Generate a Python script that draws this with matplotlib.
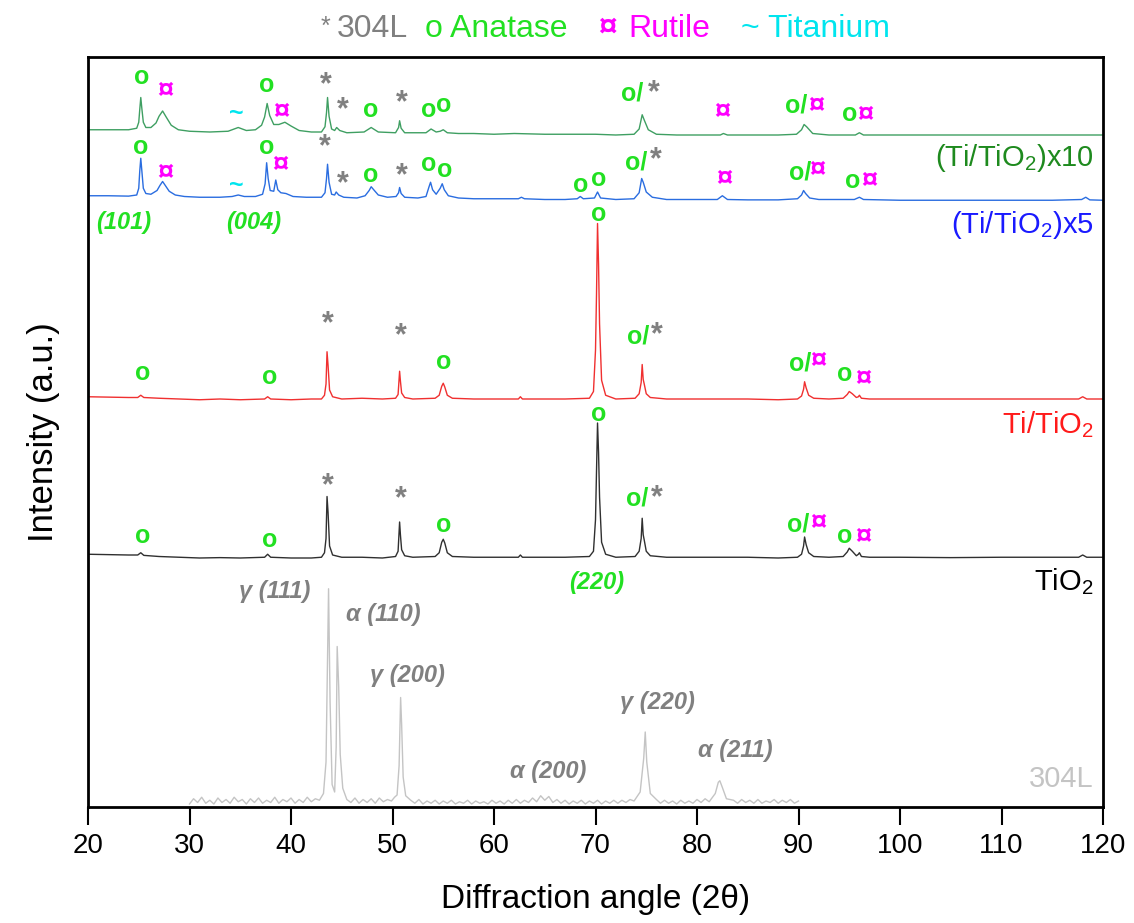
import numpy as np
import matplotlib
matplotlib.use("Agg")
import matplotlib.pyplot as plt

plt.rcParams['font.family'] = ['Liberation Sans', 'DejaVu Sans']
plt.rcParams['mathtext.fontset'] = 'custom'
plt.rcParams['mathtext.rm'] = 'Liberation Sans'
plt.rcParams['mathtext.it'] = 'Liberation Sans:italic'

# ---- data ----
# shared angle grid for the two TiO2 patterns
tio2_x = [20, 22, 24, 24.9, 25.2, 25.5, 27, 29, 31, 33, 35, 37.4, 37.7, 38.0, 40, 42, 43.0, 43.3,
          43.45, 43.55, 43.65, 43.8, 44.1, 45, 47, 49, 50.3, 50.55, 50.7, 50.78, 50.9, 51.2, 52,
          54.2, 54.6, 54.85, 55.0, 55.15, 55.4, 55.9, 58, 60, 62.4, 62.6, 62.8, 65, 67, 69.4, 69.8,
          70.0, 70.1, 70.2, 70.3, 70.4, 70.6, 71.0, 72, 73.9, 74.3, 74.5, 74.6, 74.7, 74.8, 75.0,
          75.4, 77, 80, 85, 88, 89.9, 90.3, 90.5, 90.6, 90.75, 91.0, 91.5, 93, 94.4, 94.8, 95.0,
          95.3, 95.7, 95.9, 96.0, 96.2, 97, 100, 105, 110, 115, 117.6, 118.0, 118.4, 120]
tio2_y = [0.4, 0.35, 0.3, 0.3, 0.6, 0.25, 0.1, 0.0, -0.1, -0.05, -0.1, 0.0, 0.4, 0.0, -0.1, -0.1,
          0.0, 0.6, 2.5, 8.1, 6.0, 1.5, 0.3, 0.0, 0.0, -0.1, 0.1, 0.8, 4.7, 3.0, 1.0, 0.2, 0.0,
          0.1, 0.6, 2.0, 2.4, 1.9, 0.6, 0.1, 0.0, 0.0, 0.0, 0.3, 0.0, 0.0, 0.0, 0.1, 0.8, 5.0,
          11.5, 17.9, 14.0, 8.0, 2.0, 0.4, 0.0, 0.1, 0.8, 2.5, 5.2, 3.0, 2.3, 0.8, 0.2, 0.0, 0.0,
          0.0, -0.1, 0.0, 0.4, 1.5, 2.7, 1.7, 0.6, 0.1, 0.0, 0.1, 0.7, 1.2, 0.8, 0.2, 0.4, 0.6,
          0.1, 0.0, 0.0, -0.05, 0.0, 0.0, 0.0, 0.3, 0.0, 0.0]
ti_tio2_y = [0.3, 0.25, 0.2, 0.2, 0.5, 0.2, 0.1, 0.0, -0.1, 0.0, -0.1, 0.0, 0.3, 0.0, -0.1, 0.0,
             0.0, 0.5, 2.0, 6.3, 4.5, 1.2, 0.3, 0.0, 0.1, 0.0, 0.1, 0.6, 3.7, 2.4, 0.8, 0.2, 0.0,
             0.1, 0.5, 1.7, 2.1, 1.6, 0.5, 0.1, 0.0, 0.0, 0.0, 0.3, 0.0, 0.0, 0.0, 0.1, 1.0, 6.5,
             14.0, 23.4, 18.0, 10.0, 2.5, 0.5, 0.0, 0.1, 0.7, 2.2, 4.6, 2.6, 2.0, 0.7, 0.2, 0.0,
             0.0, 0.0, -0.1, 0.0, 0.4, 1.3, 2.3, 1.5, 0.5, 0.1, 0.0, 0.1, 0.6, 1.0, 0.7, 0.2, 0.3,
             0.5, 0.1, 0.0, 0.0, 0.0, 0.0, 0.0, 0.0, 0.3, 0.0, 0.0]

x5_x = [20, 22, 24, 24.8, 25.0, 25.1, 25.2, 25.3, 25.45, 25.7, 26.2, 26.8, 27.1, 27.35, 27.6, 28.0,
        28.6, 29.5, 31, 33, 34.2, 34.8, 35.4, 36.5, 37.2, 37.45, 37.6, 37.75, 37.95, 38.3, 38.5,
        38.7, 39.0, 39.5, 40.2, 41.5, 43.0, 43.35, 43.5, 43.6, 43.75, 44.0, 44.3, 44.45, 44.7,
        45.2, 46.5, 47.3, 47.7, 47.9, 48.15, 48.6, 49.5, 50.35, 50.6, 50.7, 50.85, 51.2, 52.5,
        53.3, 53.6, 53.75, 53.95, 54.3, 54.7, 54.9, 55.1, 55.5, 56.5, 58, 60, 62.4, 62.7, 63, 65,
        67, 68.2, 68.5, 68.8, 69.9, 70.2, 70.5, 72, 73.8, 74.3, 74.55, 74.7, 75.0, 75.6, 77, 80,
        82.0, 82.5, 83.0, 85, 88, 89.9, 90.3, 90.5, 90.7, 91.1, 92, 95.5, 96.0, 96.4, 100, 105,
        110, 115, 117.9, 118.3, 118.7, 120]
x5_y = [0.2, 0.2, 0.15, 0.3, 1.2, 3.5, 5.2, 3.6, 1.2, 0.5, 0.4, 0.9, 1.6, 2.1, 1.6, 0.8, 0.3, 0.1,
        0.0, 0.0, 0.1, 0.3, 0.1, 0.1, 0.4, 1.8, 4.6, 2.5, 0.9, 0.8, 2.3, 1.0, 0.6, 0.5, 0.1, 0.0,
        0.0, 0.6, 2.5, 4.4, 2.0, 0.4, 0.3, 0.7, 0.3, 0.0, -0.1, 0.2, 0.9, 1.4, 1.0, 0.3, 0.0, 0.1,
        0.6, 1.3, 0.5, 0.0, -0.1, 0.1, 1.4, 2.0, 1.0, 0.4, 1.2, 1.8, 1.0, 0.2, -0.1, -0.2, -0.2,
        -0.2, 0.0, -0.2, -0.3, -0.3, -0.2, 0.1, -0.2, -0.1, 0.7, -0.1, -0.3, -0.2, 0.6, 2.5, 2.0,
        0.7, 0.0, -0.3, -0.3, -0.3, 0.2, -0.3, -0.35, -0.35, -0.2, 0.3, 0.9, 0.5, -0.1, -0.3,
        -0.3, 0.0, -0.3, -0.4, -0.4, -0.4, -0.4, -0.3, 0.0, -0.35, -0.4]

x10_x = [20, 22, 24, 24.8, 25.0, 25.1, 25.2, 25.3, 25.45, 25.7, 26.2, 26.7, 27.0, 27.35, 27.7,
         28.2, 28.9, 30, 32, 33.8, 34.8, 35.6, 36.5, 37.1, 37.4, 37.65, 37.9, 38.3, 38.8, 39.4,
         40.0, 40.8, 42, 43.0, 43.35, 43.5, 43.6, 43.75, 44.0, 44.3, 44.5, 44.8, 45.5, 47.2, 47.9,
         48.6, 50.3, 50.6, 50.7, 50.85, 51.2, 53.3, 53.8, 54.3, 54.7, 55.0, 55.4, 56.5, 58, 60,
         62, 65, 67, 70, 72, 73.8, 74.3, 74.6, 74.8, 75.2, 76, 78, 80, 82.3, 82.6, 83, 85, 88,
         89.8, 90.3, 90.55, 90.8, 91.4, 93, 95.6, 96.0, 96.4, 100, 105, 110, 115, 120]
x10_y = [0.3, 0.3, 0.3, 0.5, 1.3, 3.0, 4.6, 3.2, 1.3, 0.6, 0.6, 1.2, 2.1, 2.8, 2.0, 0.9, 0.3, 0.1,
         0.0, 0.1, 0.6, 0.2, 0.3, 0.9, 2.0, 3.8, 2.2, 1.0, 1.0, 1.3, 0.8, 0.2, 0.0, 0.0, 0.7, 2.6,
         4.6, 2.1, 0.4, 0.2, 0.6, 0.2, -0.1, 0.0, 0.6, 0.0, -0.1, 0.6, 1.5, 0.5, -0.1, -0.1, 0.4,
         0.0, 0.1, 0.3, -0.1, -0.2, -0.2, -0.3, -0.2, -0.3, -0.3, -0.3, -0.4, -0.3, 0.4, 2.3, 1.6,
         0.3, -0.3, -0.4, -0.4, -0.4, -0.2, -0.4, -0.4, -0.4, -0.3, 0.3, 1.0, 0.7, -0.2, -0.4,
         -0.4, -0.1, -0.4, -0.4, -0.4, -0.4, -0.4, -0.4]

s304_x = [30.0, 30.4, 30.8, 31.2, 31.6, 32.0, 32.4, 32.8, 33.2, 33.6, 34.0, 34.4, 34.8, 35.2, 35.6,
          36.0, 36.4, 36.8, 37.2, 37.6, 38.0, 38.4, 38.8, 39.2, 39.6, 40.0, 40.4, 40.8, 41.2, 41.6,
          42.0, 42.4, 42.8, 43.2, 43.45, 43.6, 43.7, 43.85, 44.05, 44.3, 44.45, 44.55, 44.7, 44.85,
          45.1, 45.5, 45.9, 46.3, 46.7, 47.1, 47.5, 47.9, 48.3, 48.7, 49.1, 49.5, 49.9, 50.2, 50.45,
          50.65, 50.8, 50.9, 51.05, 51.3, 51.8, 52.2, 52.6, 53.0, 53.4, 53.8, 54.2, 54.6, 55.0,
          55.4, 55.8, 56.2, 56.6, 57.0, 57.4, 57.8, 58.2, 58.6, 59.0, 59.4, 59.8, 60.2, 60.6, 61.0,
          61.4, 61.8, 62.2, 62.6, 63.0, 63.4, 63.8, 64.2, 64.6, 65.0, 65.4, 65.8, 66.2, 66.6, 67.0,
          67.4, 67.8, 68.2, 68.6, 69.0, 69.4, 69.8, 70.2, 70.6, 71.0, 71.4, 71.8, 72.2, 72.6, 73.0,
          73.4, 73.8, 74.4, 74.75, 74.9, 75.05, 75.4, 76.0, 76.4, 76.8, 77.2, 77.6, 78.0, 78.4,
          78.8, 79.2, 79.6, 80.0, 80.4, 80.8, 81.2, 81.8, 82.1, 82.25, 82.5, 82.9, 83.6, 84.0, 84.4,
          84.8, 85.2, 85.6, 86.0, 86.4, 86.8, 87.2, 87.6, 88.0, 88.4, 88.8, 89.2, 89.6, 90.0]
s304_y = [0.4, 1.1, 0.6, 1.3, 0.5, 0.9, 0.4, 1.2, 0.6, 1.0, 0.5, 1.3, 0.7, 1.0, 0.4, 1.1, 0.6, 1.2,
          0.5, 0.9, 0.6, 1.3, 0.5, 1.0, 0.7, 1.2, 0.5, 1.0, 0.6, 1.3, 0.7, 1.1, 0.9, 1.8, 6.0, 20.0,
          29.1, 14.0, 3.0, 2.0, 8.0, 21.4, 16.0, 7.0, 2.5, 1.0, 0.6, 1.2, 0.5, 1.0, 0.6, 1.1, 0.5,
          1.2, 0.7, 1.0, 0.8, 1.3, 1.6, 5.5, 14.6, 11.0, 4.0, 1.5, 0.9, 0.5, 1.0, 0.4, 0.8, 0.5, 0.9,
          0.4, 0.8, 0.5, 0.9, 0.4, 0.7, 0.5, 0.9, 0.4, 0.8, 0.5, 0.7, 0.4, 0.9, 0.5, 0.8, 0.4, 0.9,
          0.5, 1.0, 0.5, 0.9, 0.6, 1.2, 0.7, 1.5, 0.9, 1.4, 0.6, 1.0, 0.5, 0.9, 0.4, 0.8, 0.5, 0.9,
          0.4, 0.8, 0.5, 0.9, 0.4, 0.8, 0.5, 0.9, 0.5, 0.9, 0.6, 1.0, 0.8, 2.0, 6.5, 10.0, 6.0, 1.8,
          1.0, 0.5, 0.9, 0.5, 0.8, 0.4, 0.9, 0.5, 0.8, 0.5, 1.0, 0.6, 1.1, 0.7, 1.8, 3.3, 3.5, 2.6,
          1.1, 0.9, 0.5, 1.0, 0.6, 0.9, 0.5, 1.0, 0.5, 0.8, 0.6, 1.0, 0.5, 0.9, 0.6, 1.0, 0.5, 0.8]

# vertical stacking of the patterns
off_304 = 0.0
off_tio2 = 33.3
off_ti = 54.4
off_x5 = 81.3
off_x10 = 90.0

GREEN = '#22e022'
GREY = '#808080'
MAG = '#ff00ff'
CYAN = '#00e5ee'

# phase marks: (x, y, text, colour)
marks = [
    # (Ti/TiO2)x10
    (25.29, 97.4, 'o', GREEN), (27.62, 95.5, '¤', MAG), (34.58, 92.4, '~', CYAN),
    (37.61, 96.3, 'o', GREEN), (39.04, 92.7, '¤', MAG), (43.45, 96.3, '*', GREY),
    (45.09, 92.9, '*', GREY), (47.85, 92.9, 'o', GREEN), (50.91, 93.8, '*', GREY),
    (53.53, 93.0, 'o', GREEN), (55.07, 93.6, 'o', GREEN), (73.57, 95.2, 'o/', GREEN),
    (75.7, 95.2, '*', GREY), (82.49, 92.6, '¤', MAG), (89.82, 93.5, 'o/', GREEN),
    (91.72, 93.5, '¤', MAG), (95.07, 92.4, 'o', GREEN), (96.55, 92.3, '¤', MAG),
    # (Ti/TiO2)x5
    (25.19, 88.0, 'o', GREEN), (27.62, 84.5, '¤', MAG), (34.65, 82.8, '~', CYAN),
    (37.61, 88.0, 'o', GREEN), (38.92, 85.6, '¤', MAG), (43.35, 88.0, '*', GREY),
    (45.09, 83.1, '*', GREY), (47.85, 84.3, 'o', GREEN), (50.91, 84.1, '*', GREY),
    (53.53, 85.7, 'o', GREEN), (55.17, 84.9, 'o', GREEN), (68.57, 82.9, 'o', GREEN),
    (70.34, 83.7, 'o', GREEN), (73.96, 86.0, 'o/', GREEN), (75.92, 86.3, '*', GREY),
    (82.69, 83.7, '¤', MAG), (90.15, 84.6, 'o/', GREEN), (91.85, 84.9, '¤', MAG),
    (95.34, 83.5, 'o', GREEN), (96.95, 83.4, '¤', MAG),
    # Ti/TiO2
    (70.34, 79.1, 'o', GREEN), (25.35, 57.9, 'o', GREEN), (37.93, 57.4, 'o', GREEN),
    (43.58, 64.4, '*', GREY), (50.81, 62.8, '*', GREY), (55.0, 59.3, 'o', GREEN),
    (74.21, 62.8, 'o/', GREEN), (76.08, 62.9, '*', GREY), (90.15, 59.2, 'o/', GREEN),
    (91.95, 59.5, '¤', MAG), (94.58, 57.7, 'o', GREEN), (96.38, 57.1, '¤', MAG),
    # TiO2
    (70.34, 52.4, 'o', GREEN), (25.35, 36.1, 'o', GREEN), (37.93, 35.6, 'o', GREEN),
    (43.58, 42.7, '*', GREY), (50.81, 41.0, '*', GREY), (55.0, 37.6, 'o', GREEN),
    (74.11, 41.2, 'o/', GREEN), (76.08, 41.2, '*', GREY), (89.98, 37.6, 'o/', GREEN),
    (91.95, 37.8, '¤', MAG), (94.58, 36.1, 'o', GREEN), (96.38, 36.0, '¤', MAG),
]

hkl_tio2 = [(23.55, 78.0, '(101)'), (36.36, 78.0, '(004)'), (70.15, 29.9, '(220)')]
hkl_304 = [(38.42, 28.7, 'γ (111)'), (49.06, 25.6, 'α (110)'), (51.43, 17.5, 'γ (200)'),
           (65.32, 4.7, 'α (200)'), (76.06, 14.0, 'γ (220)'), (83.74, 7.6, 'α (211)')]

fig = plt.figure(figsize=(11.34, 9.23), dpi=100)
ax = fig.add_axes([88 / 1134, 116 / 923, 1015 / 1134, 750 / 923])

ax.plot(s304_x, np.array(s304_y) + off_304, color='#c4c4c4', lw=1.0)
ax.plot(tio2_x, np.array(tio2_y) + off_tio2, color='#303030', lw=1.0)
ax.plot(tio2_x, np.array(ti_tio2_y) + off_ti, color='#f03030', lw=1.0)
ax.plot(x5_x, np.array(x5_y) + off_x5, color='#2a6de0', lw=1.0)
ax.plot(x10_x, np.array(x10_y) + off_x10, color='#3f9f62', lw=1.0)

sizes = {'o': 18, 'o/': 18, '*': 22, '¤': 21, '~': 18}
for x, y, s, c in marks:
    ax.text(x, y, s, color=c, fontsize=sizes[s], fontweight='bold', ha='center', va='center')

for x, y, s in hkl_tio2:
    ax.text(x, y, s, color=GREEN, fontsize=17, fontweight='bold', style='italic',
            ha='center', va='center')
for x, y, s in hkl_304:
    ax.text(x, y, s, color=GREY, fontsize=17, fontweight='bold', style='italic',
            ha='center', va='center')

ax.text(119.1, 85.4, r'(Ti/TiO$_\mathregular{2}$)x10', color='#1e8a1e', fontsize=21, ha='right', va='baseline')
ax.text(119.1, 76.5, r'(Ti/TiO$_\mathregular{2}$)x5', color='#1a1aff', fontsize=21, ha='right', va='baseline')
ax.text(119.1, 49.8, r'Ti/TiO$_\mathregular{2}$', color='#ff1a1a', fontsize=21, ha='right', va='baseline')
ax.text(119.1, 28.9, r'TiO$_\mathregular{2}$', color='black', fontsize=21, ha='right', va='baseline')
ax.text(119.1, 2.7, '304L', color='#c4c4c4', fontsize=21, ha='right', va='baseline')

ax.set_xlim(20, 120)
ax.set_ylim(0, 100)
ax.set_xticks(range(20, 121, 10))
ax.set_yticks([])
ax.tick_params(axis='x', direction='out', length=13, width=1.5, labelsize=20, pad=6)
for sp in ax.spines.values():
    sp.set_linewidth(2)
ax.set_xlabel('Diffraction angle (2θ)', fontsize=24, labelpad=18)
ax.set_ylabel('Intensity (a.u.)', fontsize=25, labelpad=20)

# legend line on top
fig.text(325 / 1134, 1 - 27 / 923, '*', color=GREY, fontsize=18, ha='center', va='center')
fig.text(337 / 1134, 1 - 37 / 923, '304L', color=GREY, fontsize=23, ha='left', va='baseline')
fig.text(425 / 1134, 1 - 37 / 923, 'o Anatase', color=GREEN, fontsize=23, ha='left', va='baseline')
fig.text(598 / 1134, 1 - 37 / 923, '¤', color=MAG, fontsize=24, fontweight='bold', ha='left', va='baseline')
fig.text(628 / 1134, 1 - 37 / 923, 'Rutile', color=MAG, fontsize=23, ha='left', va='baseline')
fig.text(741 / 1134, 1 - 37 / 923, '~ Titanium', color=CYAN, fontsize=23, ha='left', va='baseline')

fig.savefig('out.png', dpi=100)
